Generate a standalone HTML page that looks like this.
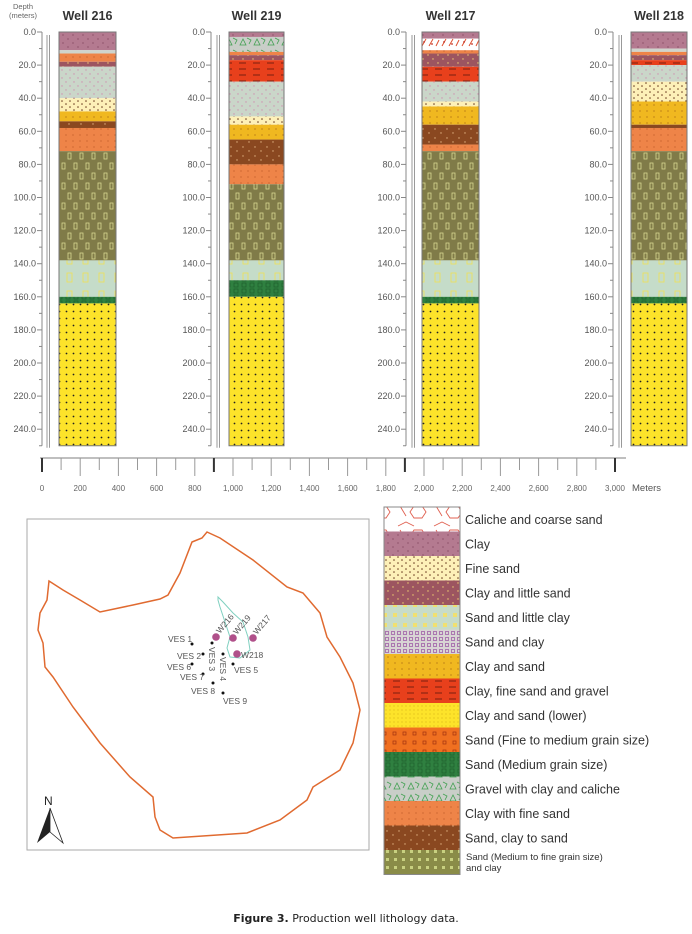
<!DOCTYPE html>
<html><head><meta charset="utf-8">
<style>
html,body{margin:0;padding:0;background:#fff;}
svg{display:block;font-family:"Liberation Sans",sans-serif;}
.dl{font-size:9px;fill:#555;}
.wt{font-size:12.5px;font-weight:bold;fill:#333;}
.sl{font-size:8px;fill:#666;}
.lg{font-size:12.5px;fill:#333;}
.mp{font-size:8.5px;fill:#555;}
</style></head>
<body>
<svg id="fig" width="692" height="934" viewBox="0 0 692 934">
<defs>
<pattern id="p-clay" width="10" height="8" patternUnits="userSpaceOnUse"><rect width="10" height="8" fill="#b47a90"/><circle cx="3" cy="3" r=".6" fill="#7a3b55"/><circle cx="8" cy="7" r=".6" fill="#7a3b55"/></pattern>
<pattern id="p-fine" width="8" height="6" patternUnits="userSpaceOnUse"><rect width="8" height="6" fill="#fdf0b8"/><circle cx="2" cy="2" r=".8" fill="#6a3a20"/><circle cx="6" cy="5" r=".8" fill="#6a3a20"/></pattern>
<pattern id="p-cls" width="10" height="8" patternUnits="userSpaceOnUse"><rect width="10" height="8" fill="#9c5560"/><circle cx="3" cy="3" r=".7" fill="#f0d070"/><circle cx="8" cy="7" r=".7" fill="#f0d070"/></pattern>
<pattern id="p-slc" width="16" height="18" patternUnits="userSpaceOnUse"><rect width="16" height="18" fill="#c5dcc9"/><rect x="3" y="3" width="5" height="9" fill="none" stroke="#ece060" stroke-width=".9"/></pattern>
<pattern id="p-slcL" width="10" height="10" patternUnits="userSpaceOnUse"><rect width="10" height="10" fill="#c8dcc8"/><rect x="3" y="3" width="4" height="4" fill="#f0e070"/></pattern>
<pattern id="p-sc" width="8" height="8" patternUnits="userSpaceOnUse"><rect width="8" height="8" fill="#cad6c9"/><circle cx="2" cy="2" r=".7" fill="#d090b0"/><circle cx="6" cy="6" r=".7" fill="#d090b0"/></pattern>
<pattern id="p-scL" width="6" height="6" patternUnits="userSpaceOnUse"><rect width="6" height="6" fill="#d8d4d4"/><rect x="1.5" y="1.5" width="3" height="3" fill="none" stroke="#a060a8" stroke-width=".8"/></pattern>
<pattern id="p-cs" width="7" height="6" patternUnits="userSpaceOnUse"><rect width="7" height="6" fill="#f0b820"/><circle cx="3" cy="3" r=".6" fill="#a06010"/></pattern>
<pattern id="p-red" width="14" height="6" patternUnits="userSpaceOnUse"><rect width="14" height="6" fill="#e8401c"/><line x1="1" y1="3" x2="8" y2="3" stroke="#7a2010" stroke-width="1"/></pattern>
<pattern id="p-yel" width="7" height="7" patternUnits="userSpaceOnUse"><rect width="7" height="7" fill="#fde32a"/><circle cx="3.5" cy="3.5" r=".9" fill="#222"/></pattern>
<pattern id="p-yelL" width="4" height="4" patternUnits="userSpaceOnUse"><rect width="4" height="4" fill="#fde32a"/><circle cx="2" cy="2" r=".5" fill="#c8a010"/></pattern>
<pattern id="p-sfm" width="10" height="9" patternUnits="userSpaceOnUse"><rect width="10" height="9" fill="#f07020"/><rect x="3" y="3" width="3" height="3" fill="none" stroke="#a03010" stroke-width=".7"/></pattern>
<pattern id="p-grn" width="8" height="6" patternUnits="userSpaceOnUse"><rect width="8" height="6" fill="#2f8040"/><rect x="2" y="1" width="4" height="4" fill="none" stroke="#1a5a28" stroke-width=".6"/></pattern>
<pattern id="p-grv" width="14" height="12" patternUnits="userSpaceOnUse"><rect width="14" height="12" fill="#c9cec8"/><path d="M2 9 L5 3 L8 9 Z M9 2 L13 4 L11 8" fill="none" stroke="#40a050" stroke-width=".8"/></pattern>
<pattern id="p-cfs" width="7" height="6" patternUnits="userSpaceOnUse"><rect width="7" height="6" fill="#ee8448"/><circle cx="3" cy="3" r=".5" fill="#a04010"/></pattern>
<pattern id="p-brn" width="12" height="9" patternUnits="userSpaceOnUse"><rect width="12" height="9" fill="#8a4820"/><circle cx="3" cy="3" r=".7" fill="#e0b080"/><circle cx="9" cy="7" r=".7" fill="#e0b080"/></pattern>
<pattern id="p-olv" width="12" height="20" patternUnits="userSpaceOnUse"><rect width="12" height="20" fill="#807b48"/><rect x="2" y="3" width="3" height="6" fill="none" stroke="#d8d890" stroke-width=".8"/><rect x="8" y="13" width="3" height="6" fill="none" stroke="#d8d890" stroke-width=".8"/></pattern>
<pattern id="p-olvL" width="8" height="8" patternUnits="userSpaceOnUse"><rect width="8" height="8" fill="#8a8c48"/><rect x="2" y="2" width="3" height="3" fill="#c8d080"/></pattern>
<pattern id="p-cal" width="20" height="12" patternUnits="userSpaceOnUse"><rect width="20" height="12" fill="#fff"/><path d="M2 10 L6 3 M9 10 L13 3 M16 10 L19 4" stroke="#e05030" stroke-width="1"/><circle cx="4" cy="6" r=".9" fill="#c03020"/><circle cx="12" cy="8" r=".9" fill="#c03020"/></pattern>
<pattern id="p-calL" width="36" height="24" patternUnits="userSpaceOnUse"><rect width="36" height="24" fill="#fff"/><path d="M4 2 L10 12 M14 8 L18 2 L26 2 L30 8 L26 14 L18 14 Z M2 22 L10 18 L18 22" fill="none" stroke="#e06050" stroke-width=".9"/></pattern>
<pattern id="p-gry" width="4" height="4" patternUnits="userSpaceOnUse"><rect width="4" height="4" fill="#cfd4cc"/></pattern>
</defs>
<g id="wells"></g>
<g id="scalebar"></g>

<!-- Map -->
<g>
<rect x="27" y="519" width="342" height="331" fill="#fff" stroke="#aaa" stroke-width="1"/>
<polygon fill="none" stroke="#e06a30" stroke-width="1.5" points="49,581 63,590 80,600 100,612 133,605 160,599 168,595 180,573 192,542 202,538 207,532 220,538 253,560 287,587 303,593 320,613 327,637 340,657 353,683 360,710 353,743 340,770 313,787 307,800 280,820 247,833 173,838 160,830 155,817 153,797 130,777 100,743 73,707 53,677 45,667 43,643 38,630 40,613 47,600"/>
<polygon fill="none" stroke="#80d0c0" stroke-width="1" points="218,597 223,602 233,613 243,622 248,637 250,650 240,658 230,657 227,648 230,637 220,607 218,600"/>
<g fill="#b0508a">
<circle cx="216" cy="637" r="3.8"/>
<circle cx="233" cy="638" r="3.8"/>
<circle cx="253" cy="638" r="3.8"/>
<circle cx="237" cy="654" r="3.8"/>
</g>
<g class="mp">
<text x="220" y="634" transform="rotate(-50 220 634)">W216</text>
<text x="237" y="635" transform="rotate(-50 237 635)">W219</text>
<text x="257" y="635" transform="rotate(-50 257 635)">W217</text>
<text x="241" y="658">W218</text>
</g>
<g fill="#111">
<circle cx="192" cy="644" r="1.5"/><circle cx="203" cy="654" r="1.5"/><circle cx="212" cy="643" r="1.5"/><circle cx="223" cy="654" r="1.5"/><circle cx="233" cy="664" r="1.5"/><circle cx="192" cy="664" r="1.5"/><circle cx="203" cy="674" r="1.5"/><circle cx="213" cy="683" r="1.5"/><circle cx="223" cy="693" r="1.5"/>
</g>
<g class="mp">
<text x="168" y="642">VES 1</text>
<text x="177" y="659">VES 2</text>
<text x="167" y="670">VES 6</text>
<text x="180" y="680">VES 7</text>
<text x="191" y="694">VES 8</text>
<text x="223" y="704">VES 9</text>
<text x="234" y="673">VES 5</text>
<text x="209" y="647" transform="rotate(90 209 647)">VES 3</text>
<text x="220" y="657" transform="rotate(90 220 657)">VES 4</text>
</g>
<g>
<text x="44" y="805" font-size="12" fill="#222">N</text>
<polygon points="50,808 37,843 50,832" fill="#222"/>
<polygon points="50,808 63,843 50,832" fill="#fff" stroke="#222" stroke-width=".8"/>
</g>
</g>

<g id="legend"></g>

<text x="346" y="922" text-anchor="middle" font-family="DejaVu Sans, sans-serif" font-size="11" fill="#222"><tspan font-weight="bold">Figure 3.</tspan> Production well lithology data.</text>
</svg>

<script>
var NS="http://www.w3.org/2000/svg";
// depth data (meters)
var depthTicks=[0,20,40,60,80,100,120,140,160,180,200,220,240];
var wellNames=["Well 216","Well 219","Well 217","Well 218"];
var well216Tops=[0,11,13,18,21,40,48,54,58,72,138,160,164];
var well216Types=["clay","gry","cfs","cls","sc","fine","cs","brn","cfs","olv","slc","grn","yel"];
var well219Tops=[0,3,12,14,17,30,51,56,65,80,92,138,150,160];
var well219Types=["clay","grv","cfs","cls","red","sc","fine","cs","brn","cfs","olv","slc","grn","yel"];
var well217Tops=[0,4,11,13,21,30,42,45,56,68,72,138,160,164];
var well217Types=["clay","cal","cfs","cls","red","sc","fine","cs","brn","cfs","olv","slc","grn","yel"];
var well218Tops=[0,10,12,14,17,20,30,42,56,58,72,138,160,164];
var well218Types=["clay","gry","cfs","cls","red","sc","fine","cs","brn","cfs","olv","slc","grn","yel"];
var wellBottom=250;
var scaleTicks=[0,100,200,300,400,500,600,700,800,900,1000,1100,1200,1300,1400,1500,1600,1700,1800,1900,2000,2100,2200,2300,2400,2500,2600,2700,2800,2900,3000];
var scaleLabels=["0","200","400","600","800","1,000","1,200","1,400","1,600","1,800","2,000","2,200","2,400","2,600","2,800","3,000"];
var scaleLabelValues=[0,200,400,600,800,1000,1200,1400,1600,1800,2000,2200,2400,2600,2800,3000];
var legendNames=["Caliche and coarse sand","Clay","Fine sand","Clay and little sand","Sand and little clay","Sand and clay","Clay and sand","Clay, fine sand and gravel","Clay and sand (lower)","Sand (Fine to medium grain size)","Sand (Medium grain size)","Gravel with clay and caliche","Clay with fine sand","Sand, clay to sand","Sand (Medium to fine grain size)"];
var legendFills=["calL","clay","fine","cls","slcL","scL","cs","red","yelL","sfm","grn","grv","cfs","brn","olvL"];

function yD(d){return 32+d*1.655;}
function xM(m){return 42+m*0.191;}
function mk(tag,attrs,parent){var e=document.createElementNS(NS,tag);for(var k in attrs)e.setAttribute(k,attrs[k]);parent.appendChild(e);return e;}

var layout=[{lab:36,ax:42,dbl:47,col:59,w:57},{lab:205,ax:211,dbl:217,col:229,w:55},{lab:400,ax:406,dbl:412,col:422,w:57},{lab:607,ax:613,dbl:619,col:631,w:56}];
var tops=[well216Tops,well219Tops,well217Tops,well218Tops];
var types=[well216Types,well219Types,well217Types,well218Types];
var wg=document.getElementById("wells");
var hd=mk("text",{x:23,y:9,"font-size":"7.5",fill:"#666","text-anchor":"middle"},wg);hd.textContent="Depth";


var hd2=mk("text",{x:23,y:18,"font-size":"7.5",fill:"#666","text-anchor":"middle"},wg);hd2.textContent="(meters)";


for(var i=0;i<4;i++){
  var L=layout[i];
  var g=mk("g",{},wg);
  
  
  var t=mk("text",{x:L.col+L.w/2,y:20,"text-anchor":"middle","class":"wt"},g);t.textContent=wellNames[i];
  
  
  mk("line",{x1:L.ax,y1:yD(0),x2:L.ax,y2:yD(wellBottom),stroke:"#888","stroke-width":1},g);
  mk("line",{x1:L.dbl,y1:yD(0)+3,x2:L.dbl,y2:yD(wellBottom)+2,stroke:"#999","stroke-width":1},g);
  mk("line",{x1:L.dbl+2.5,y1:yD(0)+3,x2:L.dbl+2.5,y2:yD(wellBottom)+2,stroke:"#999","stroke-width":1},g);
  for(var d=0;d<=wellBottom;d+=10){
    var major=(d%20===0)&&d<=240;
    mk("line",{x1:L.ax-(major?5:3),y1:yD(d),x2:L.ax,y2:yD(d),stroke:"#888","stroke-width":1},g);
  }
  for(var j=0;j<depthTicks.length;j++){
    var tl=mk("text",{x:L.lab,y:yD(depthTicks[j])+3,"text-anchor":"end","class":"dl"},g);
    tl.textContent=depthTicks[j].toFixed(1);
    
    
  }
  for(var k=0;k<tops[i].length;k++){
    var lTop=tops[i][k],lBot=(k+1<tops[i].length)?tops[i][k+1]:wellBottom;
    var r=mk("rect",{x:L.col,y:yD(lTop),width:L.w,height:yD(lBot)-yD(lTop),fill:"url(#p-"+types[i][k]+")"},g);
    
    
  }
  mk("rect",{x:L.col,y:yD(0),width:L.w,height:yD(wellBottom)-yD(0),fill:"none",stroke:"#777","stroke-width":1},g);
}
// scale bar
var sg=document.getElementById("scalebar");


mk("line",{x1:40,y1:458,x2:626,y2:458,stroke:"#999","stroke-width":1.2},sg);
for(var s=0;s<scaleTicks.length;s++){
  var v=scaleTicks[s];var thick=(v===0||v===900||v===1900||v===3000);
  mk("line",{x1:xM(v),y1:458,x2:xM(v),y2:thick?472:(v%200===0?476:470),stroke:thick?"#333":"#999","stroke-width":thick?2:1},sg);
}
for(var s2=0;s2<scaleLabels.length;s2++){
  var sl=mk("text",{x:xM(scaleLabelValues[s2]),y:491,"text-anchor":"middle","class":"sl"},sg);sl.textContent=scaleLabels[s2];
  
  
}
var mt=mk("text",{x:632,y:491,"font-size":"9.5",fill:"#555"},sg);mt.textContent="Meters";


// legend
var lg=document.getElementById("legend");
var ly=507,lh=24.5;
for(var n=0;n<legendNames.length;n++){
  var ry=ly+n*lh;
  var sw=mk("rect",{x:384,y:ry,width:76,height:lh,fill:"url(#p-"+legendFills[n]+")"},lg);
  
  
  if(n<14){
    var tx=mk("text",{x:465,y:ry+lh/2+4.5,"class":"lg"},lg);tx.textContent=legendNames[n];
    
    
  }else{
    var t1=mk("text",{x:466,y:ry+10,"font-size":"9.5",fill:"#333"},lg);t1.textContent=legendNames[n];
    
    
    var t2=mk("text",{x:466,y:ry+21,"font-size":"9.5",fill:"#333"},lg);t2.textContent="and clay";
    
    
  }
}
mk("rect",{x:384,y:ly,width:76,height:lh*legendNames.length,fill:"none",stroke:"#888","stroke-width":1},lg);
</script>
</body></html>
